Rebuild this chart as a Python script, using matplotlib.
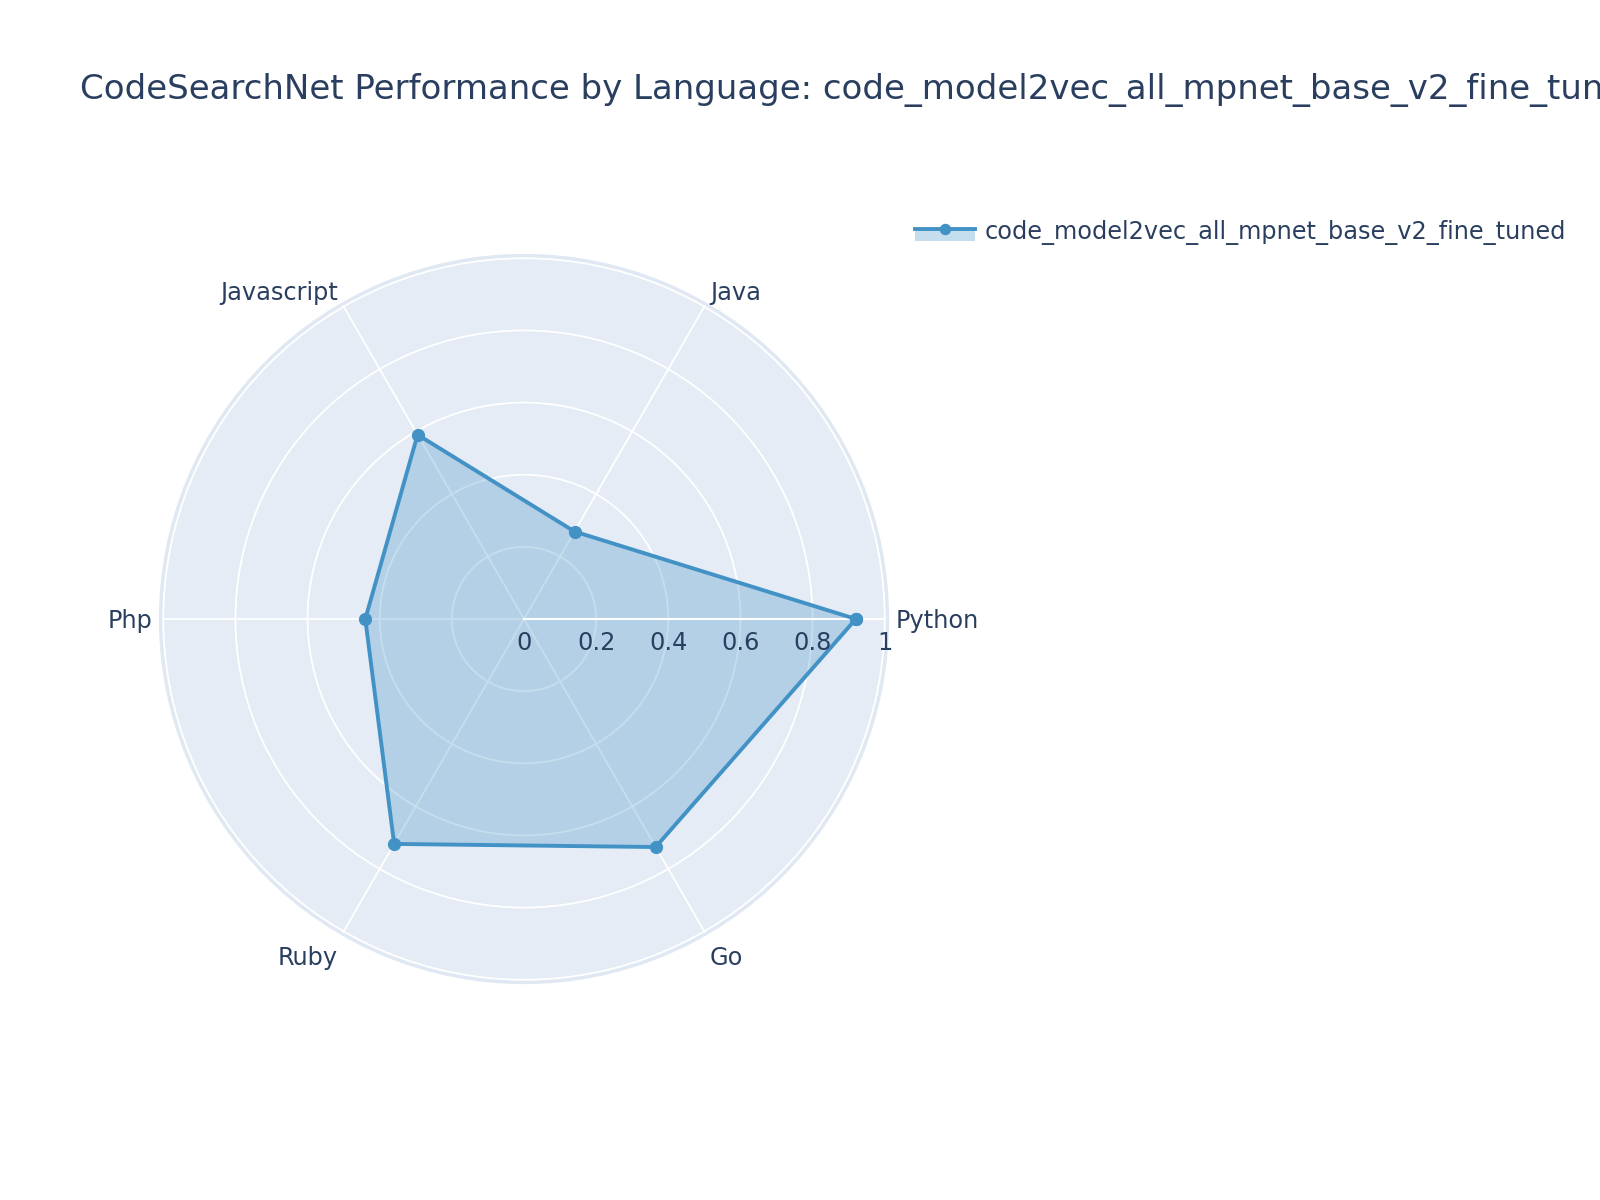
import numpy as np
import matplotlib
matplotlib.use("Agg")
import matplotlib.pyplot as plt
from matplotlib.patches import Rectangle
from matplotlib.lines import Line2D
from matplotlib.legend_handler import HandlerBase
from matplotlib.transforms import offset_copy

# ---- data ----
model_name = "code_model2vec_all_mpnet_base_v2_fine_tuned"
languages = ["Python", "Java", "Javascript", "Php", "Ruby", "Go"]
scores = [0.92, 0.28, 0.59, 0.44, 0.72, 0.73]
radial_ticks = [0, 0.2, 0.4, 0.6, 0.8, 1.0]
radial_tick_labels = ["0", "0.2", "0.4", "0.6", "0.8", "1"]

# ---- style ----
TEXT = "#2a3f5f"
BG = "#e5ecf6"
LINE = "#4292c6"
LW = 2.8
MS = 8.5
plt.rcParams["font.family"] = ["DejaVu Sans"]


class FillLineHandler(HandlerBase):
    """legend key like plotly's: line with marker over a filled box"""
    def create_artists(self, legend, orig_handle, xdescent, ydescent,
                       width, height, fontsize, trans):
        x0, y0 = -xdescent, -ydescent
        yl = y0 + 0.55 * height
        rect = Rectangle((x0, y0), width, yl - y0, facecolor=LINE, alpha=0.3,
                         edgecolor="none", transform=trans)
        line = Line2D([x0, x0 + width], [yl, yl], color=LINE, linewidth=LW,
                      transform=trans)
        mk = Line2D([x0 + width / 2], [yl], color=LINE, marker="o",
                    markersize=MS * 0.85, linestyle="none", transform=trans)
        return [rect, line, mk]


fig = plt.figure(figsize=(16, 12), dpi=100)
ax = fig.add_axes([0.10025, 0.18117, 0.4545, 0.606], projection="polar")
ax.set_facecolor(BG)

angles = np.deg2rad(np.arange(len(languages)) * 360.0 / len(languages))
ax.set_ylim(0, 1.008)

# grid
ax.set_xticks(angles)
ax.set_xticklabels([])
ax.set_yticks(radial_ticks)
ax.set_yticklabels([])
ax.grid(True, color="white", linewidth=1.3)
ax.tick_params(length=0)
ax.spines["polar"].set_color("#e0e8f3")
ax.spines["polar"].set_linewidth(2.2)

# data trace
th = np.append(angles, angles[0])
rr = np.append(scores, scores[0])
ax.fill(th, rr, color=LINE, alpha=0.3, linewidth=0, zorder=2)
trace, = ax.plot(th, rr, color=LINE, linewidth=LW, marker="o", markersize=MS, zorder=4)

# radial axis line on top
ax.plot([0, 0], [0, 1], color="white", linewidth=1.5, zorder=3)

# angular labels (alignment, vertical nudge in px)
align = {
    "Python": ("left", "center", -2),
    "Java": ("left", "bottom", -8),
    "Javascript": ("right", "bottom", -8),
    "Php": ("right", "center", -2),
    "Ruby": ("right", "top", -5),
    "Go": ("left", "top", -5),
}
for a, lang in zip(angles, languages):
    ha, va, dy = align[lang]
    t = offset_copy(ax.transData, fig=fig, x=0, y=dy, units="dots")
    ax.text(a, 1.03, lang, transform=t, ha=ha, va=va, fontsize=17.3,
            color=TEXT, clip_on=False)

# radial tick labels below the axis line
tr = offset_copy(ax.transData, fig=fig, x=0, y=-12, units="dots")
for r, lbl in zip(radial_ticks, radial_tick_labels):
    ax.text(0, r, lbl, transform=tr, ha="center", va="top", fontsize=17.3,
            color=TEXT, clip_on=False, zorder=5)

# title
fig.text(0.05, 0.925, "CodeSearchNet Performance by Language: " + model_name,
         ha="left", va="center", fontsize=24.5, color=TEXT)

# legend
fig.legend([trace], [model_name], handler_map={trace: FillLineHandler()},
           loc="upper left", bbox_to_anchor=(0.5585, 0.835), frameon=False,
           fontsize=17.3, labelcolor=TEXT, handlelength=2.5, handleheight=1.0,
           handletextpad=0.4)

fig.savefig("out.png", dpi=100)
